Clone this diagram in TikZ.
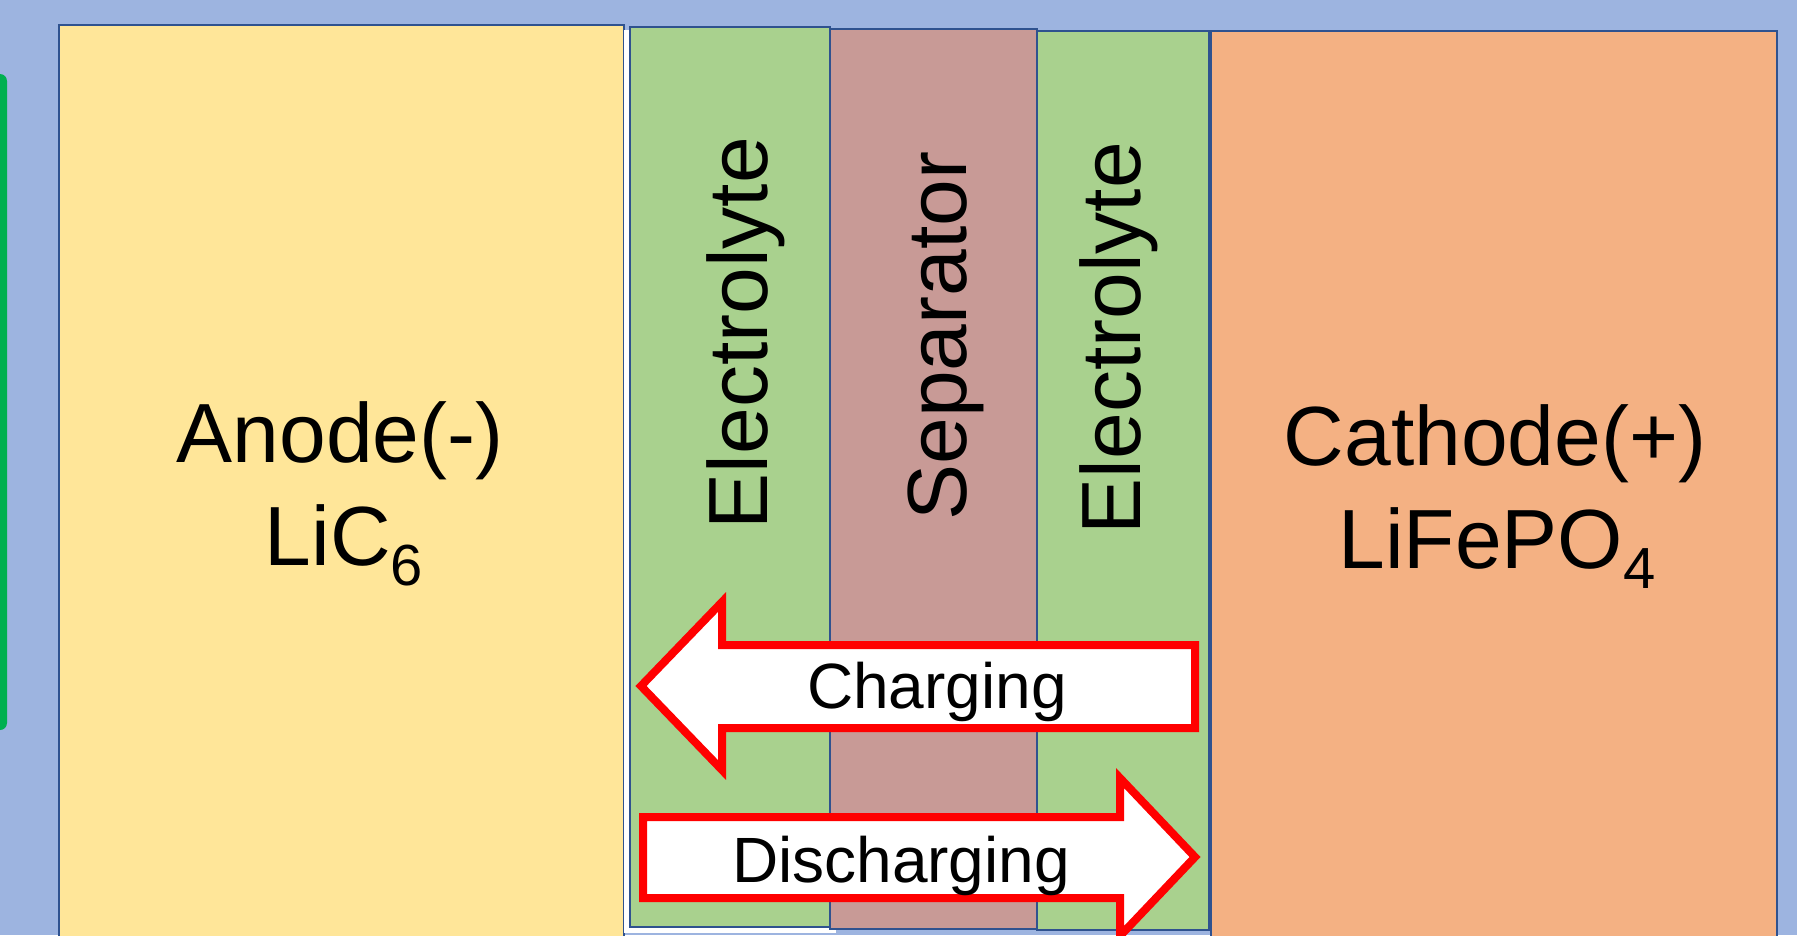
\documentclass[tikz,border=0pt]{standalone}
\usepackage{fontspec}
\setmainfont{Liberation Sans}
\definecolor{bgblue}{HTML}{9DB4E0}
\definecolor{tabgreen}{HTML}{00B050}
\definecolor{edgeblue}{HTML}{2F528F}
\definecolor{anodefill}{HTML}{FFE699}
\definecolor{elecfill}{HTML}{A9D18E}
\definecolor{sepfill}{HTML}{C89A96}
\definecolor{cathfill}{HTML}{F4B183}
\definecolor{arrowred}{HTML}{FF0000}
\newcommand\lowsub[1]{\raisebox{-20pt}{\fontsize{58}{58}\selectfont #1}}
\begin{document}
\begin{tikzpicture}[x=1pt,y=-1pt,
  layer/.style={draw=edgeblue, line width=1.8pt},
  bigtext/.style={inner sep=0pt, font=\fontsize{84}{104}\selectfont, text=black},
  arrowtext/.style={inner sep=0pt, font=\fontsize{64}{76}\selectfont, text=black},
  arrowshape/.style={draw=arrowred, fill=white, line width=8pt, line join=miter}]
\useasboundingbox (0,0) rectangle (1797,935);
\clip (0,0) rectangle (1797,935);
% background and side tab
\fill[bgblue] (0,0) rectangle (1797,935);
\fill[tabgreen, rounded corners=7pt] (-20,74) rectangle (7,730);
% cell layers
\draw[layer, fill=anodefill] (59,25) rectangle (624,960);
\fill[white] (624,30) rectangle (836,933);
\draw[layer, fill=elecfill] (630,27) rectangle (830,927);
\draw[layer, fill=sepfill] (830,29) rectangle (1037,929);
\draw[layer, fill=elecfill] (1037,31) rectangle (1209,930);
\draw[layer, fill=cathfill] (1211,31) rectangle (1777,960);
% labels
\node[bigtext, anchor=base] (anodename) at (340,462) {Anode(-)};
\node[bigtext, anchor=base] (anodemat) at (344,565) {LiC\lowsub{6}};
\node[bigtext, anchor=base] (cathname) at (1495,465) {Cathode(+)};
\node[bigtext, anchor=base] (cathmat) at (1497,568) {LiFePO\lowsub{4}};
\node[bigtext, rotate=90, anchor=base] (elecleft) at (767,333) {Electrolyte};
\node[bigtext, rotate=90, anchor=base] (septext) at (966,336) {Separator};
\node[bigtext, rotate=90, anchor=base] (elecright) at (1140,338) {Electrolyte};
% ion flow arrows
\draw[arrowshape] (641,686) -- (722,602) -- (722,645) -- (1195,645) -- (1195,728) -- (722,728) -- (722,770) -- cycle;
\node[arrowtext, anchor=base] (charging) at (937,708) {Charging};
\draw[arrowshape] (643,817) -- (1120,817) -- (1120,778) -- (1195,857) -- (1120,936) -- (1120,898) -- (643,898) -- cycle;
\node[arrowtext, anchor=base] (discharging) at (901,882) {Discharging};
\end{tikzpicture}
\end{document}
